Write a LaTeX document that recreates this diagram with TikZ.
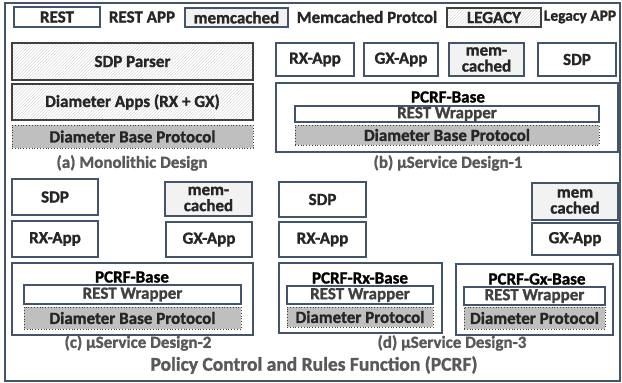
\documentclass[tikz,border=0pt]{standalone}
\usepackage{fontspec}
\setmainfont{Carlito}[BoldFeatures={FakeBold=1.3}]
\usetikzlibrary{patterns.meta}
\definecolor{frame}{HTML}{44546A}
\definecolor{legacyedge}{HTML}{404040}
\definecolor{memfill}{HTML}{F2F2F2}
\definecolor{dbpfill}{HTML}{BFBFBF}
\definecolor{captxt}{HTML}{595959}
\definecolor{boxtxt}{HTML}{262626}
\newcommand{\bx}[7]{\node[#1,minimum width={#4-#2},minimum height={#5-#3}] (#6) at ({(#2+#4)/2},{(#3+#5)/2}) {#7};}
\begin{document}
\begin{tikzpicture}[x=1pt,y=-1pt,
  lbl/.style={font=\bfseries\fontsize{17}{16}\selectfont,text=boxtxt,inner sep=0pt,align=center},
  app/.style={lbl,draw=frame,line width=1.3pt,fill=white},
  memb/.style={app,fill=memfill},
  legacy/.style={lbl,draw=legacyedge,line width=1.5pt,pattern={Lines[angle=45,distance=2.2pt,line width=0.35pt]},pattern color=black!20},
  dbp/.style={lbl,draw=legacyedge,line width=0.8pt,dotted,fill=dbpfill},
  wrap/.style={lbl,draw=frame,line width=1.3pt,fill=white,text=black!75},
  base/.style={draw=frame,line width=1.3pt,inner sep=0pt},
  captn/.style={font=\bfseries\fontsize{17}{18}\selectfont,text=captxt,inner sep=0pt},
  ttl/.style={font=\bfseries\fontsize{19.5}{20}\selectfont,text=captxt,inner sep=0pt},
  legtxt/.style={font=\bfseries\fontsize{17}{18}\selectfont,text=boxtxt,inner sep=0pt}]
\useasboundingbox (0,0) rectangle (622,383);
\draw[frame,line width=1.3pt] (5,3) rectangle (620,381);
% legend
\bx{app}{14}{7}{100}{27}{lgrest}{REST}
\node[legtxt] (lgresttxt) at (142,17) {REST APP};
\bx{memb}{185}{8}{288}{27}{lgmem}{memcached}
\node[legtxt] (lgmemtxt) at (367,17) {Memcached Protcol};
\bx{legacy}{447}{8}{541}{27}{lgleg}{LEGACY}
\node[legtxt,font=\bfseries\fontsize{15.5}{18}\selectfont] (lglegtxt) at (580,17) {Legacy APP};
% (a)
\bx{legacy}{12}{43}{253}{80}{asdp}{SDP Parser}
\bx{legacy}{12}{84}{253}{120}{adia}{Diameter Apps (RX + GX)}
\bx{dbp}{12}{125}{253}{148}{adbp}{Diameter Base Protocol}
\node[captn] (acap) at (132,163) {(a) Monolithic Design};
% (b)
\bx{app}{276}{43}{354}{76}{brx}{RX-App}
\bx{app}{364}{43}{438}{76}{bgx}{GX-App}
\bx{memb}{449}{43}{524}{76}{bmem}{mem-\\cached}
\bx{app}{538}{43}{616}{76}{bsdp}{SDP}
\bx{base}{276}{83}{618}{152}{bbase}{}
\node[lbl,text=black] (bbasel) at (448,97) {PCRF-Base};
\bx{wrap}{295}{106}{599}{122}{bwrap}{REST Wrapper}
\bx{dbp}{295}{125}{599}{145}{bdbp}{Diameter Base Protocol}
\node[captn] (bcap) at (448,163) {(b) µService Design-1};
% (c)
\bx{app}{12}{179}{98}{215}{csdp}{SDP}
\bx{memb}{165}{182}{252}{216}{cmem}{mem-\\cached}
\bx{app}{12}{221}{98}{257}{crx}{RX-App}
\bx{app}{166}{222}{252}{257}{cgx}{GX-App}
\bx{base}{12}{263}{253}{335}{cbase}{}
\node[lbl,text=black] (cbasel) at (132,277) {PCRF-Base};
\bx{wrap}{24}{285}{241}{304}{cwrap}{REST Wrapper}
\bx{dbp}{24}{307}{241}{329}{cdbp}{Diameter Base Protocol}
\node[captn] (ccap) at (138,343) {(c) µService Design-2};
% (d)
\bx{app}{279}{182}{366}{217}{dsdp}{SDP}
\bx{app}{279}{222}{366}{257}{drx}{RX-App}
\bx{memb}{532}{183}{618}{220}{dmem}{mem\\cached}
\bx{app}{532}{223}{618}{255}{dgx}{GX-App}
\bx{base}{279}{263}{442}{333}{drxbase}{}
\node[lbl,text=black] (drxbasel) at (360,278) {PCRF-Rx-Base};
\bx{wrap}{287}{286}{433}{304}{drxwrap}{REST Wrapper}
\bx{dbp}{287}{307}{433}{327}{drxdp}{Diameter Protocol}
\bx{base}{456}{264}{613}{335}{dgxbase}{}
\node[lbl,text=black] (dgxbasel) at (537,279) {PCRF-Gx-Base};
\bx{wrap}{464}{287}{605}{305}{dgxwrap}{REST Wrapper}
\bx{dbp}{464}{307}{605}{329}{dgxdp}{Diameter Protocol}
\node[captn] (dcap) at (452,343) {(d) µService Design-3};
\node[ttl] (title) at (314,365) {Policy Control and Rules Function (PCRF)};
\end{tikzpicture}
\end{document}
